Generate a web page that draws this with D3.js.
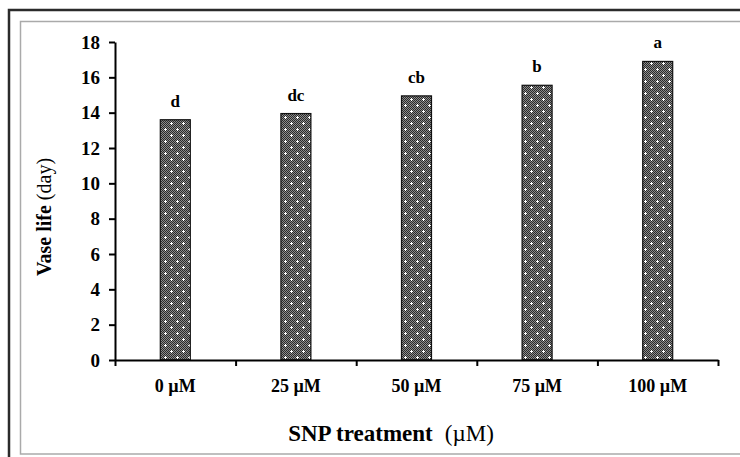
<!DOCTYPE html>
<html>
<head>
<meta charset="utf-8">
<script src="https://cdn.jsdelivr.net/npm/d3@7"></script>
<style>
    body { margin: 0; background: #fff; }
    svg { display: block; font-family: "Liberation Serif", "Times New Roman", serif; }
</style>
</head>
<body>
<svg id="chart" width="740" height="457"></svg>
<script>
var categories = ["0 \u00b5M", "25 \u00b5M", "50 \u00b5M", "75 \u00b5M", "100 \u00b5M"],
    vaseLife = [13.6, 13.95, 14.95, 15.55, 16.9],
    letters = ["d", "dc", "cb", "b", "a"],
    yTicks = [0, 2, 4, 6, 8, 10, 12, 14, 16, 18];

var svg = d3.select("#chart"),
    plot = {left: 115, right: 718, top: 42, bottom: 360},
    barWidth = 30;

// frame: dark outer line and light inner line (both run off the page right/bottom)
svg.append("rect")
    .attr("x", 9).attr("y", 10)
    .attr("width", 800).attr("height", 800)
    .attr("fill", "none").attr("stroke", "#2b2b2b").attr("stroke-width", 2.5);
svg.append("rect")
    .attr("x", 20.5).attr("y", 21.5)
    .attr("width", 800).attr("height", 432.5)
    .attr("fill", "none").attr("stroke", "#aaa").attr("stroke-width", 1.5);

// dotted fill of the bars
var defs = svg.append("defs"),
    pat = defs.append("pattern")
        .attr("id", "dots")
        .attr("patternUnits", "userSpaceOnUse")
        .attr("width", 12).attr("height", 12);
pat.append("rect").attr("width", 12).attr("height", 12).attr("fill", "#8c8c8c");
for (var i = 0; i < 12; i++) {
    for (var j = 0; j < 12; j++) {
        if ((i + j) % 2 == 0) {
            pat.append("rect").attr("x", i).attr("y", j).attr("width", 1).attr("height", 1).attr("fill", "#2a2a2a");
        }
    }
}
[[3, 3], [9, 9]].forEach(function(p) {
    pat.append("rect").attr("x", p[0] - 1).attr("y", p[1]).attr("width", 3).attr("height", 1).attr("fill", "#fff");
    pat.append("rect").attr("x", p[0]).attr("y", p[1] - 1).attr("width", 1).attr("height", 3).attr("fill", "#fff");
});

var x = d3.scaleBand().domain(categories).range([plot.left, plot.right]).padding(0),
    xEdge = d3.scaleLinear().domain([0, categories.length]).range([plot.left, plot.right]),
    y = d3.scaleLinear().domain([0, 18]).range([plot.bottom, plot.top]);

// bars
svg.append("g").selectAll("rect")
    .data(vaseLife)
    .enter().append("rect")
        .attr("x", function(d, i) { return x(categories[i]) + (x.bandwidth() - barWidth) / 2; })
        .attr("y", function(d) { return y(d); })
        .attr("width", barWidth)
        .attr("height", function(d) { return y(0) - y(d); })
        .attr("fill", "url(#dots)")
        .attr("stroke", "#111")
        .attr("stroke-width", 1.2);

// significance letters
svg.append("g").selectAll("text")
    .data(vaseLife)
    .enter().append("text")
        .attr("x", function(d, i) { return x(categories[i]) + x.bandwidth() / 2; })
        .attr("y", function(d) { return y(d) - 13; })
        .attr("text-anchor", "middle")
        .attr("font-size", 17)
        .attr("font-weight", "bold")
        .text(function(d, i) { return letters[i]; });

// y axis
var yAxis = svg.append("g")
    .attr("transform", "translate(" + plot.left + ",0)")
    .call(d3.axisLeft(y).tickValues(yTicks).tickSize(6).tickSizeOuter(0).tickPadding(9));
yAxis.selectAll("text").attr("font-size", 19).attr("font-weight", "bold").attr("fill", "#000")
    .attr("font-family", "Liberation Serif");
yAxis.selectAll("line, path").attr("stroke", "#000").attr("stroke-width", 2);

// x axis: ticks at band edges, labels at centres
var xTicksG = svg.append("g")
    .attr("transform", "translate(0," + plot.bottom + ")")
    .call(d3.axisBottom(xEdge).tickValues(d3.range(categories.length + 1)).tickFormat("").tickSize(6).tickSizeOuter(0));
xTicksG.selectAll("line, path").attr("stroke", "#000").attr("stroke-width", 2);

var xLabels = svg.append("g")
    .attr("transform", "translate(0," + plot.bottom + ")")
    .call(d3.axisBottom(x).tickSize(0).tickPadding(19));
xLabels.select(".domain").remove();
xLabels.selectAll("text").attr("font-size", 18).attr("font-weight", "bold").attr("fill", "#000")
    .attr("font-family", "Liberation Serif");

// axis titles
var xt = svg.append("text")
    .attr("x", 391).attr("y", 441)
    .attr("text-anchor", "middle")
    .attr("font-size", 23);
xt.append("tspan").attr("font-weight", "bold").text("SNP treatment");
xt.append("tspan").attr("dx", 12).text("(\u00b5M)");

var yt = svg.append("text")
    .attr("transform", "translate(51,217) rotate(-90)")
    .attr("text-anchor", "middle")
    .attr("font-size", 20);
yt.append("tspan").attr("font-weight", "bold").text("Vase life");
yt.append("tspan").attr("dx", 5).text("(day)");
</script>
</body>
</html>
